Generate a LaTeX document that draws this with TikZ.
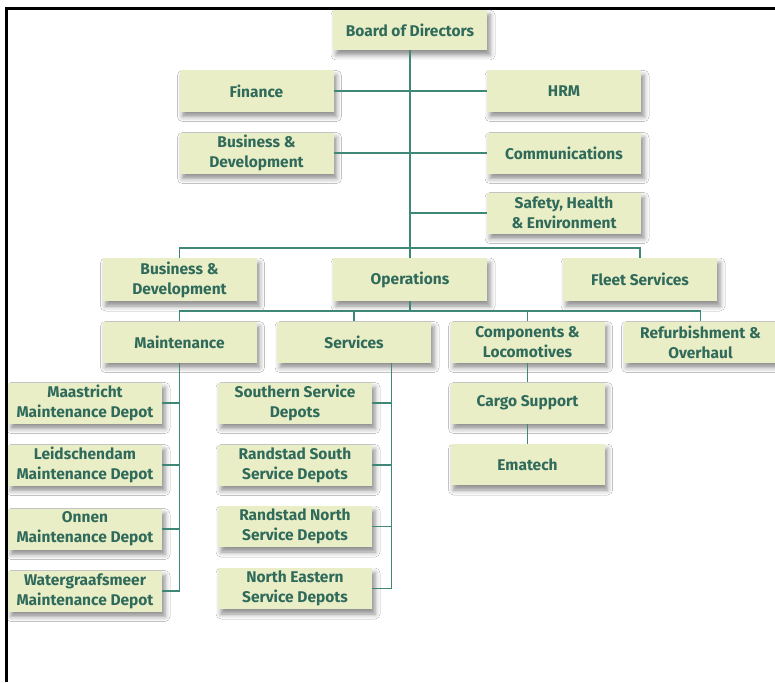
\documentclass[tikz,border=0pt]{standalone}
\usepackage{fontspec}
\setmainfont{Fira Sans}
\usetikzlibrary{shadows.blur}
\definecolor{boxfill}{HTML}{E9EEC6}
\definecolor{boxtext}{HTML}{2F6A5B}
\definecolor{wire}{HTML}{3F8878}
\tikzset{
  unit/.style={fill=boxfill, text=boxtext, font=\bfseries\fontsize{15.5}{20}\selectfont,
    minimum width=154pt, minimum height=41pt, inner sep=0pt, align=center,
    blur shadow={shadow xshift=3pt, shadow yshift=-5pt, shadow blur radius=5pt, shadow opacity=45}},
  link/.style={draw=wire, line width=1.4pt},
  frame/.style={draw=black, line width=3pt}
}
\begin{document}
\begin{tikzpicture}[x=1pt, y=-1pt]
\useasboundingbox (0,0) rectangle (775,682);
\fill[white] (0,0) rectangle (775,682);
\draw[frame] (6,682) -- (6,9) -- (775,9);

% top level
\node[unit, minimum height=40pt] (board) at (410,30) {Board of Directors};
\node[unit] (fin)  at (256.5,91)  {Finance};
\node[unit] (hrm)  at (564,91)    {HRM};
\node[unit] (bd1)  at (256.5,153) {Business \&\\Development};
\node[unit] (comm) at (564,153)   {Communications};
\node[unit] (she)  at (564,213)   {Safety, Health\\\& Environment};

% divisions
\node[unit, minimum height=43pt] (bd2)   at (179.5,279.5) {Business \&\\Development};
\node[unit, minimum height=43pt] (ops)   at (410,279.5)   {Operations};
\node[unit, minimum height=43pt] (fleet) at (640,279.5)   {Fleet Services};

% operations units
\node[unit] (maint)  at (179.5,342) {Maintenance};
\node[unit] (serv)   at (354,342)   {Services};
\node[unit] (comp)   at (527.5,342) {Components \&\\Locomotives};
\node[unit] (refurb) at (700.5,342) {Refurbishment \&\\Overhaul};
\node[unit] (cargo)  at (527.5,403) {Cargo Support};
\node[unit] (ema)    at (527.5,464.5) {Ematech};

% maintenance depots
\node[unit] (maas)  at (85,403) {Maastricht\\Maintenance Depot};
\node[unit] (leid)  at (85,465) {Leidschendam\\Maintenance Depot};
\node[unit] (onnen) at (85,529) {Onnen\\Maintenance Depot};
\node[unit] (water) at (85,591) {Watergraafsmeer\\Maintenance Depot};

% service depots
\node[unit] (south) at (295,403)   {Southern Service\\Depots};
\node[unit] (rs)    at (295,465)   {Randstad South\\Service Depots};
\node[unit] (rn)    at (295,526.5) {Randstad North\\Service Depots};
\node[unit] (ne)    at (295,588.5) {North Eastern\\Service Depots};

% junction points
\coordinate (busA) at (410,248);
\coordinate (busB) at (410,311);
\coordinate (svtop) at ([xshift=-40pt]serv.south east);

% connectors
\draw[link] (board.south) -- (ops.north);
\draw[link] (fin.east) -- (hrm.west);
\draw[link] (bd1.east) -- (comm.west);
\draw[link] (she.west -| board.south) -- (she.west);
\draw[link] (bd2.north) |- (busA) -| (fleet.north);
\draw[link] (ops.south) -- (busB);
\draw[link] (maint.north) |- (busB) -| (refurb.north);
\draw[link] (serv.north) -- (serv.north |- busB);
\draw[link] (comp.north) -- (comp.north |- busB);
\draw[link] (comp.south) -- (cargo.north);
\draw[link] (cargo.south) -- (ema.north);
\draw[link] (maint.south) -- (maint.south |- water.east);
\foreach \d in {maas,leid,onnen,water}
  \draw[link] (\d.east) -- (\d.east -| maint.south);
\draw[link] (svtop) -- (svtop |- ne.east);
\foreach \d in {south,rs,rn,ne}
  \draw[link] (\d.east) -- (\d.east -| svtop);
\end{tikzpicture}
\end{document}
